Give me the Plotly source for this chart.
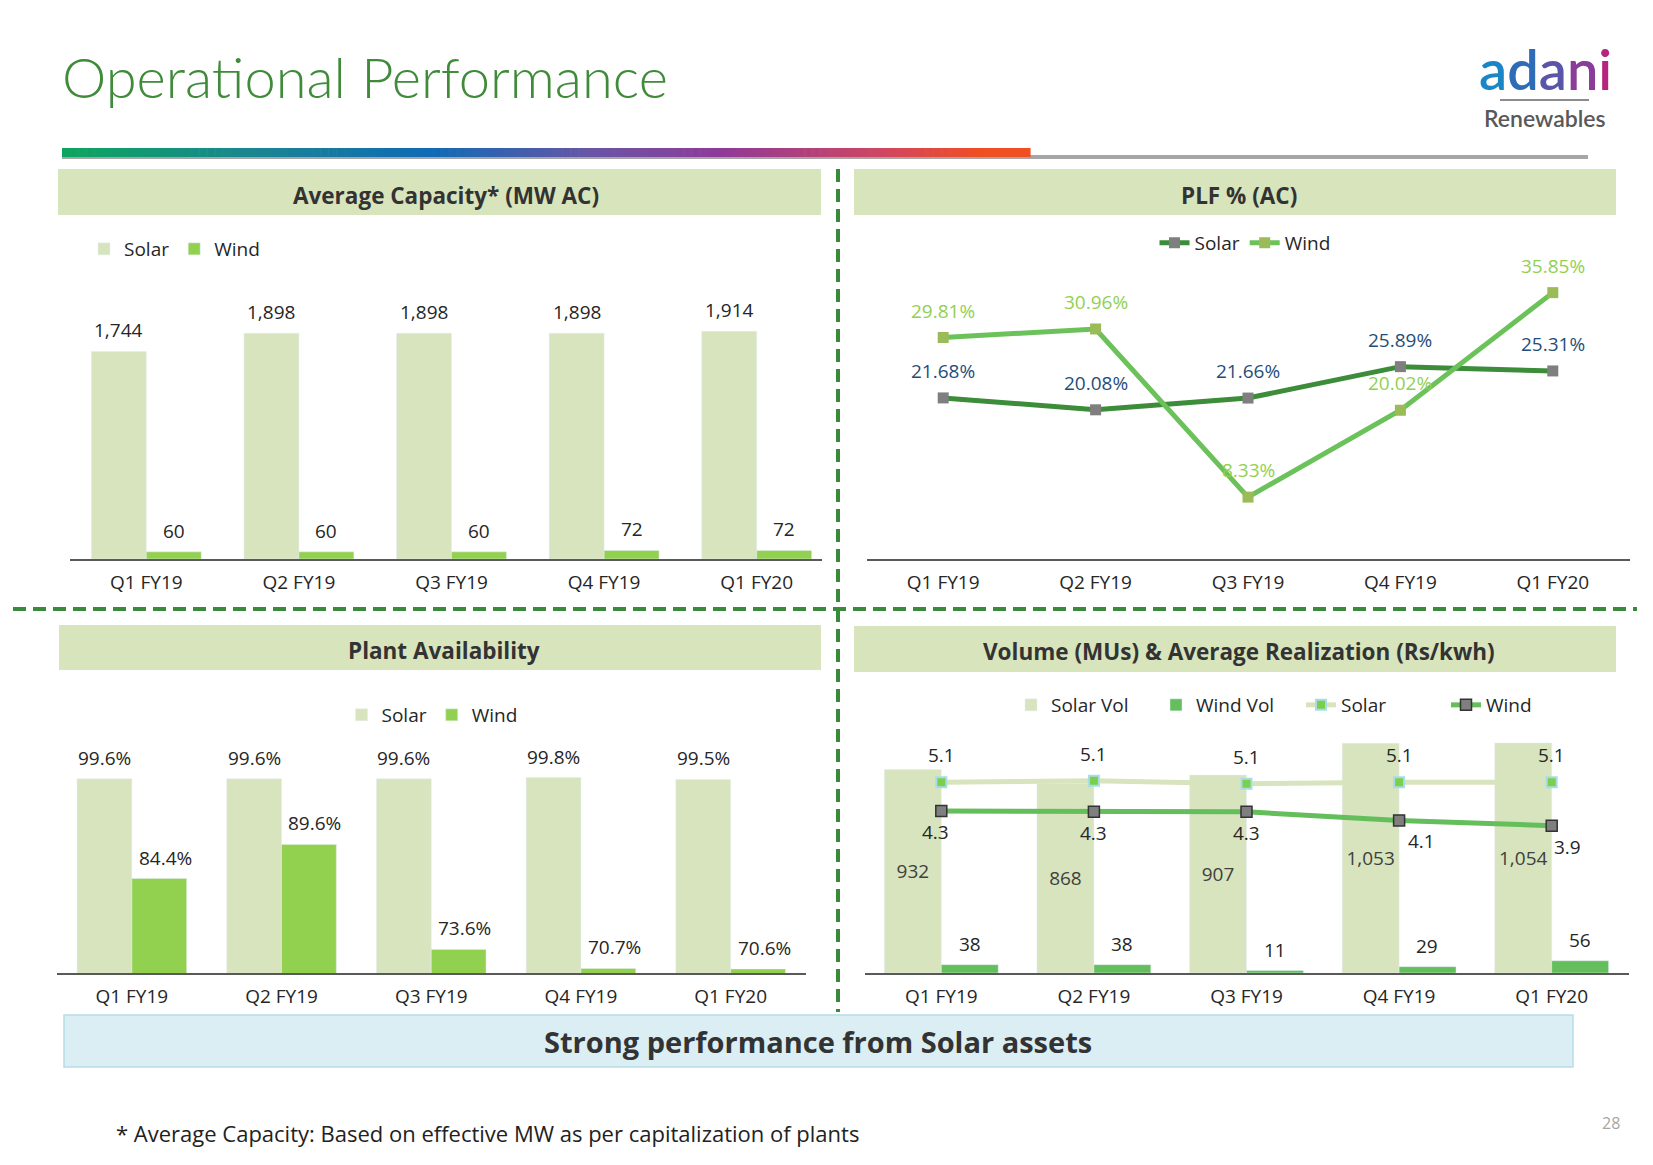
import plotly.graph_objects as go

# Browser body has an 8px margin: the figure is sized so that page == window
OFF = 8
W, H = 1653 - 2 * OFF, 1165 - 2 * OFF


def px(x):
    return (x - OFF) / W


def py(y):
    return 1 - (y - OFF) / H


# ---------------- data ----------------
quarters = ["Q1 FY19", "Q2 FY19", "Q3 FY19", "Q4 FY19", "Q1 FY20"]
cap_solar = [1744, 1898, 1898, 1898, 1914]
cap_wind = [60, 60, 60, 72, 72]
plf_solar = [21.68, 20.08, 21.66, 25.89, 25.31]
plf_wind = [29.81, 30.96, 8.33, 20.02, 35.85]
avail_solar = [99.6, 99.6, 99.6, 99.8, 99.5]
avail_wind = [84.4, 89.6, 73.6, 70.7, 70.6]
vol_solar = [932, 868, 907, 1053, 1054]
vol_wind = [38, 38, 11, 29, 56]
real_solar = [5.10, 5.14, 5.06, 5.10, 5.10]
real_wind = [4.33, 4.31, 4.31, 4.08, 3.94]

# ---------------- styles ----------------
FONT = "Open Sans, Lato, DejaVu Sans, sans-serif"
TXT = "#262626"
SOLAR_BAR = "#D7E4BD"
WIND_BAR = "#92D050"
WIND_VOL = "#63BE5B"
PLF_SOLAR_LINE = "#3C8C3A"
PLF_WIND_LINE = "#6CC25A"
PLF_SOLAR_LBL = "#1F4E79"
PLF_WIND_LBL = "#92D050"
HEADER = "#D8E4BC"
DASH_GREEN = "#3A8A3C"
AXIS_LINE = "#595959"
LBL_SIZE = 19
wind_real_lbl_dx = [-6, 0, 0, 22, 16]   # label nudges (style only)

fig = go.Figure()

# ---- chart 1: average capacity ----
fig.add_bar(x=quarters, y=cap_solar, name="Solar", marker_color=SOLAR_BAR,
            width=0.36, offset=-0.36, xaxis="x", yaxis="y", legend="legend")
fig.add_bar(x=quarters, y=cap_wind, name="Wind", marker_color=WIND_BAR,
            width=0.36, offset=0.0, xaxis="x", yaxis="y", legend="legend")

# ---- chart 2: PLF ----
fig.add_scatter(x=quarters, y=plf_solar, name="Solar", mode="lines+markers",
                line=dict(color=PLF_SOLAR_LINE, width=5),
                marker=dict(symbol="square", size=11, color="#7F7F7F"),
                xaxis="x2", yaxis="y2", legend="legend2")
fig.add_scatter(x=quarters, y=plf_wind, name="Wind", mode="lines+markers",
                line=dict(color=PLF_WIND_LINE, width=5),
                marker=dict(symbol="square", size=11, color="#9BBB59"),
                xaxis="x2", yaxis="y2", legend="legend2")

# ---- chart 3: plant availability ----
fig.add_bar(x=quarters, y=avail_solar, name="Solar", marker_color=SOLAR_BAR,
            width=0.366, offset=-0.366, xaxis="x3", yaxis="y3", legend="legend3")
fig.add_bar(x=quarters, y=avail_wind, name="Wind", marker_color=WIND_BAR,
            width=0.366, offset=0.0, xaxis="x3", yaxis="y3", legend="legend3")

# ---- chart 4: volume & realization ----
fig.add_bar(x=quarters, y=vol_solar, name="Solar Vol", marker_color=SOLAR_BAR,
            width=0.373, offset=-0.373, xaxis="x4", yaxis="y4", legend="legend4",
            texttemplate="%{y:,}", textposition="inside", insidetextanchor="middle",
            textangle=0, constraintext="none",
            textfont=dict(family=FONT, size=LBL_SIZE, color="#404040"))
fig.add_bar(x=quarters, y=vol_wind, name="Wind Vol", marker_color=WIND_VOL,
            width=0.373, offset=0.0, xaxis="x4", yaxis="y4", legend="legend4")
fig.add_scatter(x=quarters, y=real_solar, name="Solar", mode="lines+markers",
                line=dict(color=SOLAR_BAR, width=5),
                marker=dict(symbol="square", size=10, color="#7CCF4A",
                            line=dict(color="#A8DCEB", width=2)),
                xaxis="x4", yaxis="y5", legend="legend4")
fig.add_scatter(x=quarters, y=real_wind, name="Wind", mode="lines+markers",
                line=dict(color=WIND_VOL, width=5),
                marker=dict(symbol="square", size=11, color="#7F7F7F",
                            line=dict(color="#333333", width=1.5)),
                xaxis="x4", yaxis="y5", legend="legend4")

# ---------------- annotations (data labels) ----------------
ann = []


def lbl(x, y, text, xref, yref, color=TXT, yshift=21, xshift=0, size=LBL_SIZE):
    ann.append(dict(x=x, y=y, xref=xref, yref=yref, text=text, showarrow=False,
                    yanchor="middle", xanchor="center", yshift=yshift, xshift=xshift,
                    font=dict(family=FONT, size=size, color=color)))


for i, v in enumerate(cap_solar):
    lbl(i - 0.18, v, f"{v:,}", "x", "y")
for i, v in enumerate(cap_wind):
    lbl(i + 0.18, v, f"{v:,}", "x", "y")
for i, v in enumerate(plf_solar):
    lbl(i, v, f"{v:.2f}%", "x2", "y2", color=PLF_SOLAR_LBL, yshift=27)
for i, v in enumerate(plf_wind):
    lbl(i, v, f"{v:.2f}%", "x2", "y2", color=PLF_WIND_LBL, yshift=27)
for i, v in enumerate(avail_solar):
    lbl(i - 0.183, v, f"{v:.1f}%", "x3", "y3")
for i, v in enumerate(avail_wind):
    lbl(i + 0.183, v, f"{v:.1f}%", "x3", "y3", xshift=6)
for i, v in enumerate(vol_wind):
    lbl(i + 0.186, v, f"{v:,}", "x4", "y4")
for i, v in enumerate(real_solar):
    lbl(i, v, f"{v:.1f}", "x4", "y5", yshift=27)
for i, v in enumerate(real_wind):
    lbl(i, v, f"{v:.1f}", "x4", "y5", yshift=-21, xshift=wind_real_lbl_dx[i])


# ---------------- static texts ----------------
def txt(x, y, text, size, color=TXT, xanchor="center", family=FONT, weight=None):
    f = dict(family=family, size=size, color=color)
    if weight:
        f["weight"] = weight
    ann.append(dict(x=px(x), y=py(y), xref="paper", yref="paper", text=text,
                    showarrow=False, xanchor=xanchor, yanchor="middle", font=f))


txt(60, 77, "Operational Performance", 56, color="#3F8B3A", xanchor="left",
    family="Lato, Noto Sans, sans-serif", weight=300)
HDR = 22.5
txt(446, 195, "Average Capacity* (MW AC)", HDR, color="#333333", weight="bold")
txt(1239, 195, "PLF % (AC)", HDR, color="#333333", weight="bold")
txt(444, 650, "Plant Availability", HDR, color="#333333", weight="bold")
txt(1239, 651, "Volume (MUs) &amp; Average Realization (Rs/kwh)", HDR, color="#333333", weight="bold")
txt(818, 1041, "Strong performance from Solar assets", 29, color="#333333", weight="bold")
txt(114, 1133, "* Average Capacity: Based on effective MW as per capitalization of plants",
    22, color="#222222", xanchor="left")
txt(1611, 1123, "28", 16, color="#A6A6A6")
logo = ("<span style='color:#1B86C6'>a</span><span style='color:#2E6CB8'>d</span>"
        "<span style='color:#5A55A8'>a</span><span style='color:#8A3C99'>n</span>"
        "<span style='color:#B5257E'>i</span>")
txt(1545, 68, logo, 56, family="Lato, Open Sans, sans-serif", weight=600)
txt(1545, 118, "Renewables", 23, color="#595959", family="Lato, Open Sans, sans-serif",
    weight=600)

# ---------------- shapes ----------------
shapes = []


def rect(x0, y0, x1, y1, fill, line_color=None, lw=0, layer="below"):
    shapes.append(dict(type="rect", xref="paper", yref="paper",
                       x0=px(x0), x1=px(x1), y0=py(y1), y1=py(y0),
                       fillcolor=fill, layer=layer,
                       line=dict(color=line_color or fill, width=lw)))


rect(58, 169, 821, 215, HEADER)
rect(854, 169, 1616, 215, HEADER)
rect(59, 625, 821, 670, HEADER)
rect(854, 626, 1616, 672, HEADER)
rect(64, 1015, 1573, 1067, "#DAEEF3", line_color="#B7DDE8", lw=1.5)

# gray underline + gradient bar
rect(62, 155, 1588, 159, "#A6A6A6")
stops = [(0.0, (13, 165, 94)), (0.22, (26, 130, 150)), (0.38, (15, 107, 181)),
         (0.55, (106, 85, 165)), (0.68, (142, 58, 152)), (0.84, (205, 70, 100)),
         (0.95, (240, 78, 35)), (1.0, (240, 78, 35))]


def grad(t):
    for (t0, c0), (t1, c1) in zip(stops[:-1], stops[1:]):
        if t0 <= t <= t1:
            f = 0 if t1 == t0 else (t - t0) / (t1 - t0)
            c = [round(a + (b - a) * f) for a, b in zip(c0, c1)]
            return f"rgb({c[0]},{c[1]},{c[2]})"
    return "rgb(240,78,35)"


N = 120
gx0, gx1 = 62, 1030
for k in range(N):
    a = gx0 + (gx1 - gx0) * k / N
    b = gx0 + (gx1 - gx0) * (k + 1) / N + 0.6
    rect(a, 148, b, 157, grad((k + 0.5) / N))

# logo line
shapes.append(dict(type="line", xref="paper", yref="paper", x0=px(1500), x1=px(1589),
                   y0=py(100), y1=py(100), line=dict(color="#8C8C8C", width=2)))

# dashed separators
shapes.append(dict(type="line", xref="paper", yref="paper", x0=px(838), x1=px(838),
                   y0=py(169), y1=py(1012), line=dict(color=DASH_GREEN, width=4, dash="13px,7px")))
shapes.append(dict(type="line", xref="paper", yref="paper", x0=px(13), x1=px(1637),
                   y0=py(609), y1=py(609), line=dict(color=DASH_GREEN, width=4, dash="13px,7px")))


# ---------------- axes ----------------
def xax(d0, d1, spacing, anchor):
    return dict(domain=[px(d0), px(d1)], range=[-0.5, -0.5 + (d1 - d0) / spacing],
                type="category", autorange=False, anchor=anchor,
                showline=True, linecolor=AXIS_LINE, linewidth=2,
                ticks="outside", ticklen=5, tickcolor="rgba(0,0,0,0)",
                showgrid=False, zeroline=False, fixedrange=True,
                tickfont=dict(family=FONT, size=LBL_SIZE, color=TXT))


def yax(top, bottom, r, anchor, **kw):
    d = dict(domain=[py(bottom), py(top)], range=r, autorange=False, anchor=anchor,
             visible=False, showgrid=False, zeroline=False, fixedrange=True)
    d.update(kw)
    return d


leg_common = dict(orientation="h", bgcolor="rgba(0,0,0,0)", yanchor="middle",
                  font=dict(family=FONT, size=LBL_SIZE, color=TXT), traceorder="normal",
                  itemwidth=30, tracegroupgap=0)

fig.update_layout(
    width=W, height=H, margin=dict(l=0, r=0, t=0, b=0),
    paper_bgcolor="white", plot_bgcolor="white",
    barmode="overlay", showlegend=True,
    xaxis=xax(70, 822, 152.6, "y"),
    yaxis=yax(250, 559, [0, 309 / 0.119], "x"),
    xaxis2=xax(867, 1630, 152.4, "y2"),
    yaxis2=yax(250, 559, [0, 309 / 7.43], "x2"),
    xaxis3=xax(57, 806, 149.7, "y3"),
    yaxis3=yax(740, 973, [70, 70 + 233 / 6.56], "x3"),
    xaxis4=xax(865, 1629, 152.6, "y4"),
    yaxis4=yax(740, 973, [0, 233 / 0.2183], "x4"),
    yaxis5=yax(740, 973, [0, 233 / 37.4], "x4", overlaying="y4", side="right"),
    legend=dict(x=px(84), y=py(249), xanchor="left", **leg_common),
    legend2=dict(x=px(1245), y=py(243), xanchor="center", **leg_common),
    legend3=dict(x=px(432), y=py(715), xanchor="center", **leg_common),
    legend4=dict(x=px(1011), y=py(705), xanchor="left", entrywidth=100,
                 entrywidthmode="pixels", **leg_common),
    annotations=ann, shapes=shapes,
)

fig.write_html("out.html")
